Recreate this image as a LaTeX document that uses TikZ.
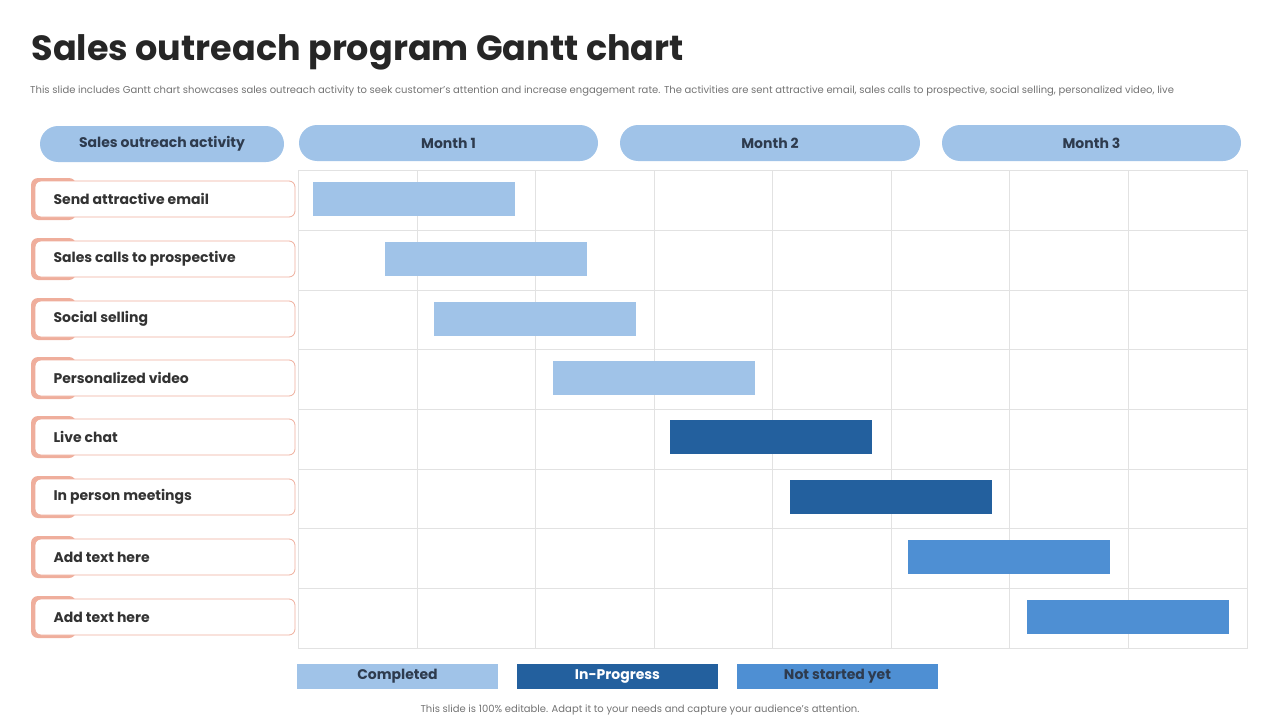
\documentclass[tikz,border=0pt]{standalone}
\usepackage{fontspec}
\setmainfont{Poppins}
\usepackage{xcolor}
\definecolor{lightbar}{HTML}{A0C3E8}
\definecolor{darkbar}{HTML}{23609E}
\definecolor{midbar}{HTML}{4E8FD3}
\definecolor{pinkline}{HTML}{EFAE9C}
\definecolor{gridline}{HTML}{E2E2E2}
\definecolor{headtext}{HTML}{2E3B4E}
\tikzset{pill/.style={fill=lightbar,rounded corners=18pt,text=headtext,font=\fontsize{14}{14}\selectfont\bfseries},
    tab/.style={fill=pinkline,rounded corners=7pt},
    labelbox/.style={draw=pinkline,fill=white,rounded corners=6pt,line width=0.8pt},
    bar/.style={draw=none},
    legendbox/.style={minimum width=201pt,minimum height=25pt,inner sep=0pt,font=\fontsize{14}{14}\selectfont\bfseries}}
\begin{document}
\begin{tikzpicture}[x=1pt,y=-1pt]
\useasboundingbox (0,0) rectangle (1280,720);
\node[anchor=west,font=\fontsize{35}{35}\selectfont\bfseries,text=black!85] (title) at (28,52) {Sales outreach program Gantt chart};
\node[anchor=west,font=\fontsize{10}{10}\selectfont,text=black!55,inner sep=0pt] (sub) at (30,91) {This slide includes Gantt chart showcases sales outreach activity to seek customer's attention and increase engagement rate. The activities are sent attractive email, sales calls to prospective, social selling, personalized video, live};
% headers
\fill[pill] (40,126) rectangle (284,162);
\node[text=headtext,font=\fontsize{14}{14}\selectfont\bfseries] (head) at (162,144) {Sales outreach activity};
\foreach \xa/\xb/\m in {299/598/1,620/920/2,942/1241/3}{
  \fill[pill] (\xa,125) rectangle (\xb,161);
  \node[text=headtext,font=\fontsize{14}{14}\selectfont\bfseries] (month\m) at ({(\xa+\xb)/2},143) {Month \m};
}
% grid
\draw[gridline] (298,170) rectangle (1247,648);
\foreach \x in {417,535,654,772,891,1009,1128} \draw[gridline] (\x,170) -- (\x,648);
\foreach \y in {230,290,349,409,469,528,588} \draw[gridline] (298,\y) -- (1247,\y);
% activities
\foreach \y/\t [count=\i] in {199/Send attractive email,259/Sales calls to prospective,319/Social selling,378/Personalized video,437/Live chat,497/In person meetings,557/Add text here,617/Add text here}{
  \fill[tab] (31,\y-21) rectangle (76,\y+21);
  \draw[labelbox] (35,\y-18) rectangle (295,\y+18);
  \node[anchor=west,text=black!80,font=\fontsize{14}{14}\selectfont\bfseries] (act\i) at (50,\y) {\t};
}
% bars
\foreach \xa/\y/\c in {313/199/lightbar,385/259/lightbar,434/319/lightbar,553/378/lightbar,670/437/darkbar,790/497/darkbar,908/557/midbar,1027/617/midbar}
  \fill[bar,\c] (\xa,\y-17) rectangle (\xa+202,\y+17);
% legend
\node[legendbox,fill=lightbar,text=headtext] (done) at (397.5,676.5) {Completed};
\node[legendbox,fill=darkbar,text=white] (prog) at (617.5,676.5) {In-Progress};
\node[legendbox,fill=midbar,text=headtext] (notyet) at (837.5,676.5) {Not started yet};
\node[font=\fontsize{10}{10}\selectfont,text=black!55] (foot) at (640,710) {This slide is 100\% editable. Adapt it to your needs and capture your audience's attention.};
\end{tikzpicture}
\end{document}
